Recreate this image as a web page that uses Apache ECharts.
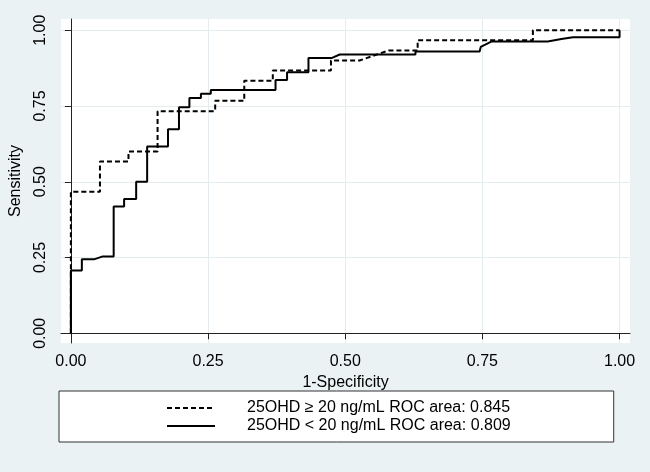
<!DOCTYPE html>
<html>
<head>
<meta charset="utf-8">
<script src="https://cdn.jsdelivr.net/npm/echarts@6/dist/echarts.min.js"></script>
<style>
  html, body { margin: 0; padding: 0; background: #eaf2f3; }
  #chart { width: 650px; height: 472px; }
</style>
</head>
<body>
<div id="chart"></div>
<script>
// tick positions shared by both axes
const tickValues = [0, 0.25, 0.5, 0.75, 1];

// 25OHD >= 20 ng/mL (dashed) - ROC vertices
const highX = [0, 0, 0.053, 0.053, 0.105, 0.105, 0.158, 0.158, 0.263, 0.263, 0.316, 0.316, 0.368, 0.368, 0.474, 0.474, 0.526, 0.579, 0.632, 0.632, 0.842, 0.842, 1];
const highY = [0, 0.467, 0.467, 0.567, 0.567, 0.6, 0.6, 0.733, 0.733, 0.767, 0.767, 0.833, 0.833, 0.867, 0.867, 0.9, 0.9, 0.933, 0.933, 0.967, 0.967, 1, 1];

// 25OHD < 20 ng/mL (solid) - ROC vertices
const lowX = [0, 0, 0.02, 0.02, 0.042, 0.057, 0.078, 0.078, 0.097, 0.097, 0.119, 0.119, 0.139, 0.139, 0.177, 0.177, 0.197, 0.197, 0.216, 0.216, 0.237, 0.237, 0.255, 0.255, 0.373, 0.373, 0.394, 0.394, 0.433, 0.433, 0.475, 0.49, 0.628, 0.628, 0.745, 0.747, 0.767, 0.869, 0.894, 0.915, 1, 1];
const lowY = [0, 0.207, 0.207, 0.244, 0.244, 0.253, 0.253, 0.418, 0.418, 0.443, 0.443, 0.5, 0.5, 0.616, 0.616, 0.673, 0.673, 0.746, 0.746, 0.776, 0.776, 0.79, 0.79, 0.803, 0.803, 0.836, 0.836, 0.861, 0.861, 0.908, 0.908, 0.92, 0.92, 0.93, 0.93, 0.945, 0.963, 0.963, 0.971, 0.977, 0.977, 1];

const seriesNames = ["25OHD \u2265 20 ng/mL ROC area: 0.845", "25OHD < 20 ng/mL ROC area: 0.809"];

const zip = (xs, ys) => xs.map((x, i) => [x, ys[i]]);
const font = "'Liberation Sans', Arial, sans-serif";

const chart = echarts.init(document.getElementById("chart"));
chart.setOption({
  animation: false,
  backgroundColor: "#eaf2f3",
  textStyle: { fontFamily: font, color: "#000" },
  grid: {
    left: 55, right: 20, top: 19, bottom: 129,
    show: true, backgroundColor: "#fff", borderWidth: 0,
  },
  xAxis: {
    type: "value",
    min: -0.018, max: 1.019,
    name: "1-Specificity",
    nameLocation: "middle",
    nameGap: 25,
    nameTextStyle: { fontSize: 16, color: "#000", fontFamily: font },
    axisLine: { lineStyle: { color: "#222", width: 1 } },
    axisTick: { customValues: tickValues, length: 6, lineStyle: { color: "#222" } },
    axisLabel: {
      customValues: tickValues, fontSize: 16, color: "#000", margin: 11,
      formatter: (v) => v.toFixed(2),
    },
    splitLine: { show: true, lineStyle: { color: "#e4ecef", width: 1 } },
  },
  yAxis: {
    type: "value",
    min: -0.032, max: 1.037,
    name: "Sensitivity",
    nameLocation: "middle",
    nameGap: 37,
    nameTextStyle: { fontSize: 16, color: "#000", fontFamily: font },
    axisLine: { show: true, lineStyle: { color: "#222", width: 1 } },
    axisTick: { show: true, customValues: tickValues, length: 6, lineStyle: { color: "#222" } },
    axisLabel: {
      customValues: tickValues, fontSize: 16, color: "#000", margin: 12, rotate: 90,
      formatter: (v) => v.toFixed(2),
    },
    splitLine: { show: true, lineStyle: { color: "#e4ecef", width: 1 } },
  },
  legend: {
    orient: "vertical",
    left: 59, top: 391,
    padding: [9, 103, 8, 107],
    itemGap: 2,
    itemWidth: 48, itemHeight: 16,
    backgroundColor: "#fff",
    borderColor: "#333", borderWidth: 1,
    itemStyle: { opacity: 0 },
    textStyle: { fontSize: 16, color: "#000", fontFamily: font, padding: [0, 0, 0, 27] },
    data: seriesNames,
  },
  series: [
    {
      name: seriesNames[0], type: "line", symbol: "none",
      data: zip(highX, highY),
      lineStyle: { color: "#000", width: 2, type: [5, 3] },
      itemStyle: { color: "#000" },
    },
    {
      name: seriesNames[1], type: "line", symbol: "none",
      data: zip(lowX, lowY),
      lineStyle: { color: "#000", width: 2 },
      itemStyle: { color: "#000" },
    },
  ],
});
</script>
</body>
</html>
